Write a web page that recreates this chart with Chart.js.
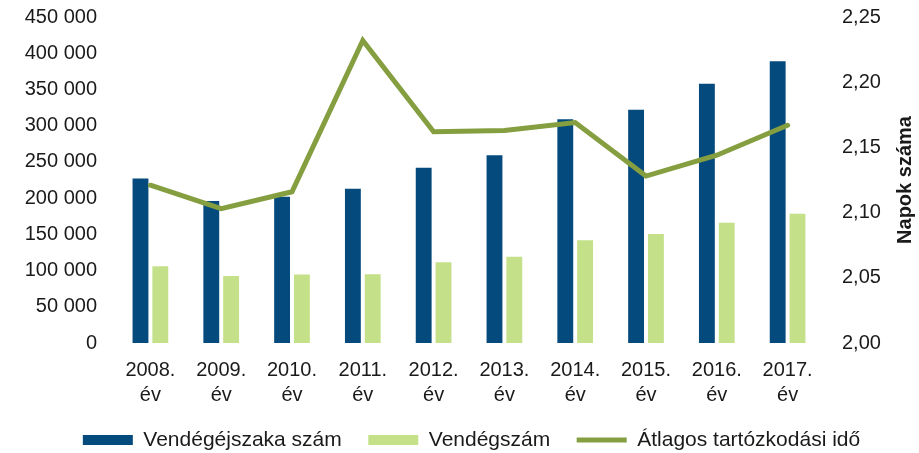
<!DOCTYPE html>
<html lang="hu">
<head>
  <meta charset="utf-8" />
  <script src="https://cdn.jsdelivr.net/npm/chart.js/dist/chart.umd.min.js"></script>
  <style>
    body { margin: 0; background: #fff; }
    #wrap { width: 919px; height: 453px; }
  </style>
</head>
<body>
  <div id="wrap"><canvas id="chart" width="919" height="453"></canvas></div>
  <script>
// adatok
const years = [['2008.', 'év'], ['2009.', 'év'], ['2010.', 'év'], ['2011.', 'év'], ['2012.', 'év'],
               ['2013.', 'év'], ['2014.', 'év'], ['2015.', 'év'], ['2016.', 'év'], ['2017.', 'év']];
const vendegejszaka = [227000, 196000, 202000, 213000, 242000, 259000, 309000, 322000, 358000, 389000];
const vendegszam = [106000, 92500, 94500, 95000, 111500, 119000, 142000, 150500, 166000, 178500];
const atlagosIdo = [2.121, 2.103, 2.116, 2.232, 2.162, 2.163, 2.169, 2.128, 2.144, 2.167];
const leftTicks = ['0', '50 000', '100 000', '150 000', '200 000', '250 000', '300 000', '350 000', '400 000', '450 000'];
const rightTicks = ['2,00', '2,05', '2,10', '2,15', '2,20', '2,25'];

const textColor = '#1a1a1a';
Chart.defaults.font.family = '"Liberation Sans", Arial, sans-serif';
Chart.defaults.font.size = 20;
Chart.defaults.color = textColor;

// jobb oldali tengelycím (alulról felfelé olvasható)
const rightTitle = {
  id: 'rightTitle',
  afterDraw(chart) {
    const ctx = chart.ctx;
    const area = chart.chartArea;
    ctx.save();
    ctx.translate(905, (area.top + area.bottom) / 2);
    ctx.rotate(-Math.PI / 2);
    ctx.font = 'bold 20px "Liberation Sans", Arial, sans-serif';
    ctx.fillStyle = textColor;
    ctx.textAlign = 'center';
    ctx.textBaseline = 'middle';
    ctx.fillText('Napok száma', 0, 0);
    ctx.restore();
  }
};

new Chart(document.getElementById('chart'), {
  type: 'bar',
  data: {
    labels: years.map(y => y.join(' ')),
    datasets: [{
      label: 'Vendégéjszaka szám',
      data: vendegejszaka,
      backgroundColor: '#054a7d',
      yAxisID: 'y',
      order: 1,
      pointStyle: 'rect'
    }, {
      label: 'Vendégszám',
      data: vendegszam,
      backgroundColor: '#c4e088',
      yAxisID: 'y',
      order: 1,
      pointStyle: 'rect'
    }, {
      type: 'line',
      label: 'Átlagos tartózkodási idő',
      data: atlagosIdo,
      borderColor: '#849e40',
      backgroundColor: '#849e40',
      borderWidth: 5,
      borderCapStyle: 'round',
      pointRadius: 0,
      tension: 0,
      yAxisID: 'y1',
      order: 0,
      pointStyle: 'line'
    }]
  },
  options: {
    responsive: false,
    animation: false,
    categoryPercentage: 0.56,
    barPercentage: 0.8,
    layout: { padding: { top: 17, left: 24, right: 0, bottom: -7.5 } },
    plugins: {
      tooltip: { enabled: false },
      legend: {
        position: 'bottom',
        labels: {
          usePointStyle: true,
          pointStyleWidth: 50,
          boxHeight: 10,
          padding: 26.5,
          color: textColor,
          font: { size: 21 },
          sort: (a, b) => a.datasetIndex - b.datasetIndex
        }
      }
    },
    scales: {
      x: {
        grid: { display: false, drawTicks: false },
        border: { display: false },
        ticks: {
          padding: 15,
          maxRotation: 0,
          autoSkip: false,
          font: { lineHeight: 1.25 },
          callback: (v, i) => years[i]
        },
        afterFit: (s) => { s.height = 60; }
      },
      y: {
        position: 'left',
        min: 0,
        max: 450000,
        grid: { display: false, drawTicks: false },
        border: { display: false },
        ticks: { stepSize: 50000, padding: 18, callback: (v, i) => leftTicks[i] },
        afterFit: (s) => { s.width = 91; s.paddingTop = 0; s.paddingBottom = 0; }
      },
      y1: {
        position: 'right',
        min: 2,
        max: 2.25,
        grid: { display: false, drawTicks: false },
        border: { display: false },
        ticks: { stepSize: 0.05, padding: 19, callback: (v, i) => rightTicks[i] },
        afterFit: (s) => { s.width = 96; s.paddingTop = 0; s.paddingBottom = 0; }
      }
    }
  },
  plugins: [rightTitle]
});
  </script>
</body>
</html>
